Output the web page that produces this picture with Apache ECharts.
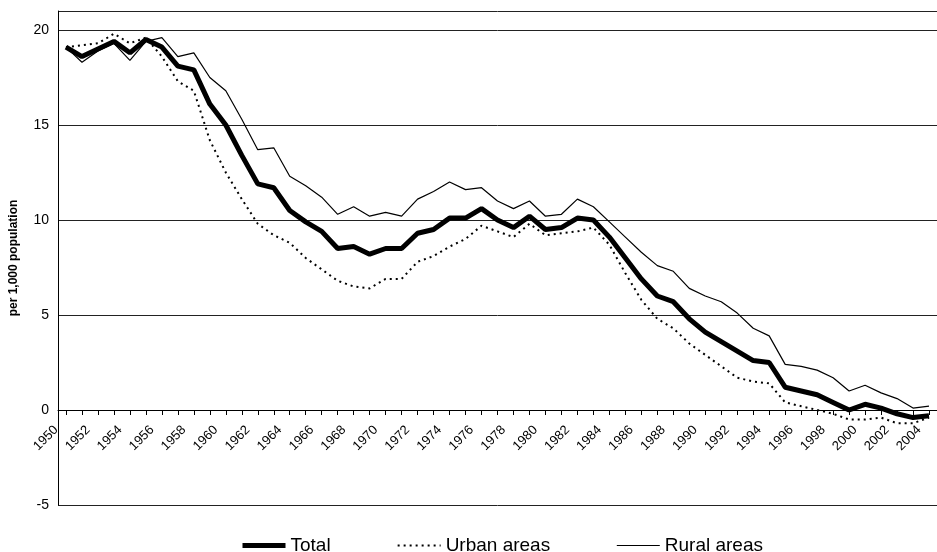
<!DOCTYPE html>
<html>
<head>
<meta charset="utf-8">
<title>Natural increase per 1,000 population</title>
<script src="https://cdn.jsdelivr.net/npm/echarts@6/dist/echarts.min.js"></script>
<style>
  html, body { margin: 0; padding: 0; background: #fff; }
  #main { width: 937px; height: 552px; }
</style>
</head>
<body>
<div id="main"></div>
<script>
// years on the x axis
var years = [];
for (var y = 1950; y <= 2004; y++) {
	years.push(String(y));
}

// per 1,000 population
var total = [19.1, 18.6, 19.0, 19.4, 18.8, 19.5, 19.1, 18.1, 17.9, 16.1,
	15.0, 13.4, 11.9, 11.7, 10.5, 9.9, 9.4, 8.5, 8.6, 8.2,
	8.5, 8.5, 9.3, 9.5, 10.1, 10.1, 10.6, 10.0, 9.6, 10.2,
	9.5, 9.6, 10.1, 10.0, 9.1, 8.0, 6.9, 6.0, 5.7, 4.8,
	4.1, 3.6, 3.1, 2.6, 2.5, 1.2, 1.0, 0.8, 0.4, 0.0,
	0.3, 0.1, -0.2, -0.4, -0.3];
var urban = [19.1, 19.2, 19.3, 19.8, 19.3, 19.6, 18.6, 17.3, 16.8, 14.2,
	12.5, 11.1, 9.8, 9.2, 8.8, 8.0, 7.4, 6.8, 6.5, 6.4,
	6.9, 6.9, 7.8, 8.1, 8.6, 9.0, 9.7, 9.4, 9.1, 9.8,
	9.2, 9.3, 9.4, 9.6, 8.7, 7.2, 5.8, 4.8, 4.3, 3.5,
	2.9, 2.3, 1.7, 1.5, 1.4, 0.4, 0.2, 0.0, -0.2, -0.5,
	-0.5, -0.4, -0.7, -0.7, -0.4];
var rural = [19.1, 18.3, 18.9, 19.3, 18.4, 19.4, 19.6, 18.6, 18.8, 17.5,
	16.8, 15.3, 13.7, 13.8, 12.3, 11.8, 11.2, 10.3, 10.7, 10.2,
	10.4, 10.2, 11.1, 11.5, 12.0, 11.6, 11.7, 11.0, 10.6, 11.0,
	10.2, 10.3, 11.1, 10.7, 9.9, 9.1, 8.3, 7.6, 7.3, 6.4,
	6.0, 5.7, 5.1, 4.3, 3.9, 2.4, 2.3, 2.1, 1.7, 1.0,
	1.3, 0.9, 0.6, 0.1, 0.2];

var font = 'Liberation Sans, Arial, sans-serif';
var myChart = echarts.init(document.getElementById('main'));

// y runs -5..21 over 494px, so the zero line sits 5 units (95px) above the bottom
var option = {
	backgroundColor: '#fff',
	animation: false,
	textStyle: { fontFamily: font, color: '#000' },
	grid: { left: 57, right: -3, top: 11, bottom: 47 },
	legend: {
		left: 235,
		top: 531,
		itemWidth: 43,
		itemHeight: 14,
		itemGap: 66,
		itemStyle: { color: 'transparent', borderWidth: 0, opacity: 0 },
		textStyle: { fontSize: 19, color: '#000', fontFamily: font },
		data: [
			{ name: 'Total', lineStyle: { width: 5 } },
			{ name: 'Urban areas', lineStyle: { width: 2 } },
			{ name: 'Rural areas', lineStyle: { width: 1.2 } }
		]
	},
	xAxis: {
		type: 'category',
		data: years,
		boundaryGap: true,
		offset: -95,
		axisLine: { onZero: false, lineStyle: { color: '#000', width: 1 } },
		axisTick: { show: true, interval: 0, alignWithLabel: true, length: 5, lineStyle: { color: '#000' } },
		axisLabel: {
			interval: 1,
			rotate: 45,
			margin: 8,
			padding: [0, 14, 0, 0],
			fontSize: 13,
			color: '#000',
			fontFamily: font
		},
		splitLine: { show: false }
	},
	yAxis: {
		type: 'value',
		min: -5,
		max: 21,
		interval: 5,
		name: 'per 1,000 population',
		nameLocation: 'middle',
		nameGap: 38,
		nameTextStyle: { fontSize: 12, fontWeight: 'bold', color: '#000', fontFamily: font },
		axisLine: { show: true, lineStyle: { color: '#000', width: 1 } },
		axisTick: { show: false },
		axisLabel: {
			fontSize: 14,
			color: '#000',
			margin: 9,
			formatter: function (v) {
				return v > 20 ? '' : v;
			}
		},
		splitLine: { lineStyle: { color: '#222', width: 1 } }
	},
	series: [
		{
			name: 'Total',
			type: 'line',
			data: total,
			symbol: 'none',
			lineStyle: { color: '#000', width: 5 },
			itemStyle: { color: '#000' }
		},
		{
			name: 'Urban areas',
			type: 'line',
			data: urban,
			symbol: 'none',
			lineStyle: { color: '#000', width: 2, type: [2, 4] },
			itemStyle: { color: '#000' }
		},
		{
			name: 'Rural areas',
			type: 'line',
			data: rural,
			symbol: 'none',
			lineStyle: { color: '#000', width: 1.2 },
			itemStyle: { color: '#000' }
		}
	]
};

myChart.setOption(option);
</script>
</body>
</html>
